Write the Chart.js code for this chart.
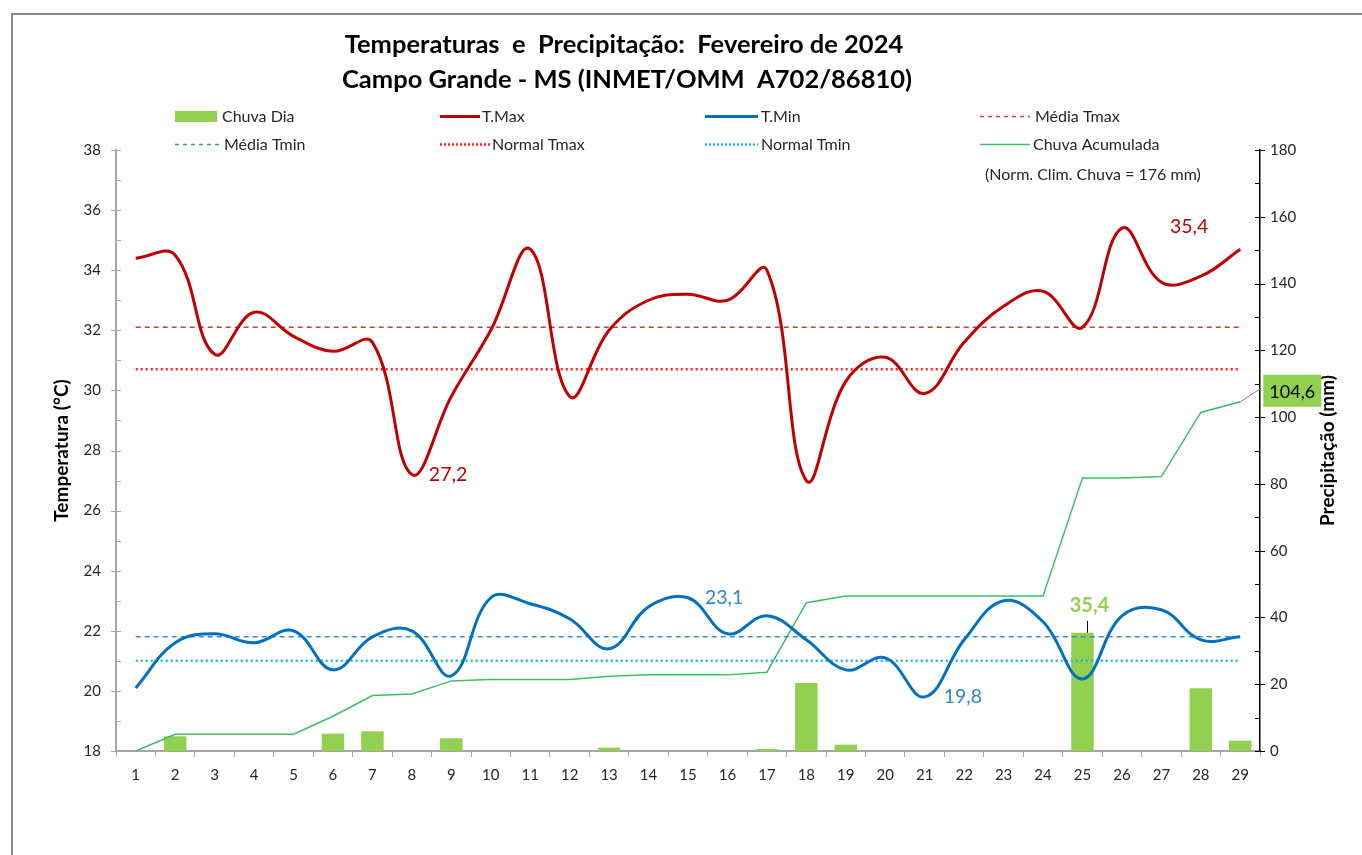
<!DOCTYPE html>
<html>
<head>
<meta charset="utf-8">
<script src="https://cdn.jsdelivr.net/npm/chart.js@4.4.1/dist/chart.umd.min.js"></script>
<style>
  html, body { margin: 0; padding: 0; background: #fff; }
  #wrap { width: 1362px; height: 855px; position: relative; }
</style>
</head>
<body>
<div id="wrap"><canvas id="chart" width="1362" height="855"></canvas></div>
<script>
// ── Data ──────────────────────────────────────────────────
const days = ['1','2','3','4','5','6','7','8','9','10','11','12','13','14','15',
  '16','17','18','19','20','21','22','23','24','25','26','27','28','29'];

const tMax = [34.4, 34.5, 31.2, 32.6, 31.8, 31.3, 31.6, 27.2, 29.8, 32.0, 34.7, 29.8, 32.0, 33.0, 33.2,
  33.0, 34.0, 27.0, 30.3, 31.1, 29.9, 31.6, 32.8, 33.3, 32.1, 35.4, 33.6, 33.8, 34.7];

const tMin = [20.1, 21.6, 21.9, 21.6, 22.0, 20.7, 21.8, 22.0, 20.5, 23.1, 22.9, 22.4, 21.4, 22.8, 23.1,
  21.9, 22.5, 21.7, 20.7, 21.1, 19.8, 21.7, 23.0, 22.3, 20.4, 22.5, 22.7, 21.7, 21.8];

const chuvaDia = [0, 4.4, 0, 0, 0, 5.2, 5.9, 0, 3.8, 0, 0, 0, 1.0, 0, 0,
  0, 0.6, 20.4, 1.9, 0, 0, 0, 0, 0, 35.4, 0, 0, 18.8, 3.1];

const chuvaAcum = [0, 5.0, 5.0, 5.0, 5.0, 10.4, 16.6, 17.1, 21.0, 21.4, 21.4, 21.4, 22.4, 22.8, 22.8,
  22.8, 23.6, 44.4, 46.4, 46.4, 46.4, 46.4, 46.4, 46.4, 81.8, 81.8, 82.2, 101.4, 104.6];

const mediaTmax = 32.1;
const mediaTmin = 21.8;
const normalTmax = 30.7;
const normalTmin = 21.0;
const normClimChuva = 176;

const tempRange = [18, 38];
const precRange = [0, 180];

// ── Style helpers ─────────────────────────────────────────
const FONT = 'Lato, "Open Sans", sans-serif';
const C = {
  rain: '#92D050',
  acum: '#3DBE66',
  tmax: '#C00000',
  tmin: '#0070C0',
  mediaTmax: '#D33B3B',
  mediaTmin: '#3A8DD4',
  normalTmax: '#FF2020',
  normalTmin: '#1FB4EE',
  axisGray: '#A6A6A6',
  text: '#262626',
};

const flat = (v) => days.map(() => v);
const fmt = (v) => v.toFixed(1).replace('.', ',');

function lineSet(label, data, color, width, dash, order, axis = 'y', tension = 0) {
  return {
    type: 'line', label, data, yAxisID: axis, order,
    borderColor: color, backgroundColor: color,
    borderWidth: width, borderDash: dash, tension,
    pointRadius: 0, pointHoverRadius: 0, fill: false,
  };
}

// ── Legend items (drawn by the overlay plugin) ───────────
// len = sample length, gap = space before the text
const legendItems = [
  { text: 'Chuva Dia', kind: 'box', color: C.rain, col: 0, row: 0, len: 42, gap: 5 },
  { text: 'T.Max', kind: 'line', color: C.tmax, col: 1, row: 0, w: 3, len: 40, gap: 2 },
  { text: 'T.Min', kind: 'line', color: C.tmin, col: 2, row: 0, w: 3, len: 53, gap: 3 },
  { text: 'Média Tmax', kind: 'dash', color: C.mediaTmax, col: 3, row: 0, w: 1.5, len: 50, gap: 5 },
  { text: 'Média Tmin', kind: 'dash', color: C.mediaTmin, col: 0, row: 1, w: 1.5, len: 45, gap: 4 },
  { text: 'Normal Tmax', kind: 'dot', color: C.normalTmax, col: 1, row: 1, w: 2.5, len: 50, gap: 2 },
  { text: 'Normal Tmin', kind: 'dot', color: C.normalTmin, col: 2, row: 1, w: 2.5, len: 53, gap: 3 },
  { text: 'Chuva Acumulada', kind: 'line', color: C.acum, col: 3, row: 1, w: 1.5, len: 50, gap: 3 },
];

const overlay = {
  id: 'overlay',
  afterDraw(chart) {
    const { ctx, scales: { x, y, y2 }, chartArea: area } = chart;
    ctx.save();

    // outer frame (top + left visible in the reference)
    ctx.strokeStyle = '#8C8C8C';
    ctx.lineWidth = 2;
    ctx.beginPath();
    ctx.moveTo(12, 855); ctx.lineTo(12, 14); ctx.lineTo(1362, 14);
    ctx.stroke();

    // title
    ctx.fillStyle = '#000';
    ctx.textAlign = 'center';
    ctx.textBaseline = 'middle';
    ctx.font = `bold 25.5px ${FONT}`;
    ctx.fillText('Temperaturas  e  Precipitação:  Fevereiro de 2024', 624, 45);
    ctx.fillText('Campo Grande - MS (INMET/OMM  A702/86810)', 627, 80);

    // legend
    const colX = [175, 440, 705, 980];
    const rowY = [116, 144];
    ctx.font = `16px ${FONT}`;
    ctx.textAlign = 'left';
    legendItems.forEach((it) => {
      const lx = colX[it.col], ly = rowY[it.row];
      if (it.kind === 'box') {
        ctx.fillStyle = it.color;
        ctx.fillRect(lx, ly - 5, it.len, 11);
      } else {
        ctx.strokeStyle = it.color;
        ctx.lineWidth = it.w;
        ctx.setLineDash(it.kind === 'dash' ? [4, 4] : it.kind === 'dot' ? [2, 2] : []);
        ctx.beginPath();
        ctx.moveTo(lx, ly + 0.5); ctx.lineTo(lx + it.len, ly + 0.5);
        ctx.stroke();
        ctx.setLineDash([]);
      }
      ctx.fillStyle = C.text;
      ctx.fillText(it.text, lx + it.len + it.gap, ly + 1);
    });
    ctx.fillText(`(Norm. Clim. Chuva = ${normClimChuva} mm)`, 985, 175);

    // axis titles
    ctx.fillStyle = '#000';
    ctx.font = `bold 19px ${FONT}`;
    ctx.textAlign = 'center';
    const midY = (area.top + area.bottom) / 2;
    [[62, 'Temperatura (°C)'], [1328, 'Precipitação (mm)']].forEach(([tx, t]) => {
      ctx.save();
      ctx.translate(tx, midY);
      ctx.rotate(-Math.PI / 2);
      ctx.fillText(t, 0, 0);
      ctx.restore();
    });

    // value labels
    const px = (i) => x.getPixelForValue(i);
    ctx.font = `19.5px ${FONT}`;
    ctx.textAlign = 'left';
    const iMinMax = tMax.indexOf(27.2);
    const iMaxMax = tMax.indexOf(Math.max(...tMax));
    const iMinMin = tMin.indexOf(Math.min(...tMin));
    const iMaxMin = tMin.lastIndexOf(Math.max(...tMin));
    ctx.fillStyle = C.tmax;
    ctx.fillText(fmt(tMax[iMinMax]), px(iMinMax) + 17, y.getPixelForValue(tMax[iMinMax]));
    ctx.fillText(fmt(tMax[iMaxMax]), px(iMaxMax) + 48, y.getPixelForValue(tMax[iMaxMax]) - 1);
    ctx.fillStyle = '#2E86CF';
    ctx.fillText(fmt(tMin[iMaxMin]), px(iMaxMin) + 17, y.getPixelForValue(tMin[iMaxMin]));
    ctx.fillText(fmt(tMin[iMinMin]), px(iMinMin) + 19, y.getPixelForValue(tMin[iMinMin]));

    // biggest daily rain label with leader
    const iRain = chuvaDia.indexOf(Math.max(...chuvaDia));
    const bx = px(iRain) + 5, by = y2.getPixelForValue(chuvaDia[iRain]);
    ctx.strokeStyle = '#000';
    ctx.lineWidth = 1;
    ctx.beginPath(); ctx.moveTo(bx, by); ctx.lineTo(bx, by - 12); ctx.stroke();
    ctx.fillStyle = C.rain;
    ctx.font = `bold 20px ${FONT}`;
    ctx.textAlign = 'center';
    ctx.fillText(fmt(chuvaDia[iRain]), bx + 2, by - 27);

    // accumulated total box
    const last = chuvaAcum.length - 1;
    const ax = px(last), ay = y2.getPixelForValue(chuvaAcum[last]);
    ctx.strokeStyle = '#7F7F7F';
    ctx.beginPath(); ctx.moveTo(ax, ay); ctx.lineTo(ax + 20, ay - 13); ctx.stroke();
    ctx.fillStyle = C.rain;
    ctx.fillRect(ax + 23, ay - 27, 58, 32);
    ctx.fillStyle = '#000';
    ctx.font = `18px ${FONT}`;
    ctx.fillText(fmt(chuvaAcum[last]), ax + 52, ay - 10);

    // y-axis tick marks: major crossing, minor inside
    const ticks = (scale, xPos, lo, hi, step, majorEvery, color, dir) => {
      ctx.strokeStyle = color;
      ctx.lineWidth = 1;
      for (let v = lo, k = 0; v <= hi + 1e-9; v += step, k++) {
        const yy = Math.round(scale.getPixelForValue(v)) + 0.5;
        const major = k % majorEvery === 0;
        ctx.beginPath();
        ctx.moveTo(major ? xPos - 5 : xPos, yy);
        ctx.lineTo(major ? xPos + 5 : xPos + 5 * dir, yy);
        ctx.stroke();
      }
    };
    ticks(y, area.left, tempRange[0], tempRange[1], 1, 2, C.axisGray, 1);
    ticks(y2, area.right, precRange[0], precRange[1], 10, 2, '#000', -1);

    ctx.restore();
  },
};

new Chart(document.getElementById('chart'), {
  type: 'bar',
  data: {
    labels: days,
    datasets: [
      lineSet('T.Max', tMax, C.tmax, 3, [], 1, 'y', 0.4),
      lineSet('T.Min', tMin, C.tmin, 3, [], 1, 'y', 0.4),
      lineSet('Média Tmax', flat(mediaTmax), C.mediaTmax, 1.5, [5, 4], 3),
      lineSet('Normal Tmax', flat(normalTmax), C.normalTmax, 2.5, [2, 3], 3),
      lineSet('Média Tmin', flat(mediaTmin), C.mediaTmin, 1.5, [5, 4], 3),
      lineSet('Normal Tmin', flat(normalTmin), C.normalTmin, 2.5, [2, 3], 3),
      lineSet('Chuva Acumulada', chuvaAcum, C.acum, 1.5, [], 5, 'y2'),
      {
        type: 'bar', label: 'Chuva Dia', data: chuvaDia, yAxisID: 'y2', order: 10,
        backgroundColor: C.rain, borderWidth: 0,
        barPercentage: 0.57, categoryPercentage: 1,
      },
    ],
  },
  options: {
    responsive: false,
    animation: false,
    events: [],
    layout: { padding: { top: 150, left: 40, right: 0, bottom: 40 } },
    plugins: { legend: { display: false }, title: { display: false }, tooltip: { enabled: false } },
    scales: {
      x: {
        offset: true,
        grid: {
          offset: true, drawOnChartArea: false, drawTicks: true,
          tickLength: 6, color: C.axisGray, lineWidth: 1,
        },
        border: { color: C.axisGray, width: 2 },
        ticks: { color: C.text, font: { family: FONT, size: 15 }, padding: 9, autoSkip: false, maxRotation: 0 },
        afterFit: (s) => { s.height = 64; },
      },
      y: {
        position: 'left',
        min: tempRange[0], max: tempRange[1],
        grid: { display: false, drawTicks: false },
        border: { color: C.axisGray, width: 2 },
        ticks: {
          stepSize: 1, autoSkip: false, padding: 15,
          color: C.text, font: { family: FONT, size: 15 },
          callback: (v) => (v % 2 === 0 ? v : ''),
        },
        afterFit: (s) => { s.width = 76; },
      },
      y2: {
        position: 'right',
        min: precRange[0], max: precRange[1],
        grid: { display: false, drawTicks: false },
        border: { color: '#000', width: 1.5 },
        ticks: {
          stepSize: 10, autoSkip: false, padding: 10,
          color: C.text, font: { family: FONT, size: 15 },
          callback: (v) => (v % 20 === 0 ? v : ''),
        },
        afterFit: (s) => { s.width = 102; },
      },
    },
  },
  plugins: [overlay],
});
</script>
</body>
</html>
